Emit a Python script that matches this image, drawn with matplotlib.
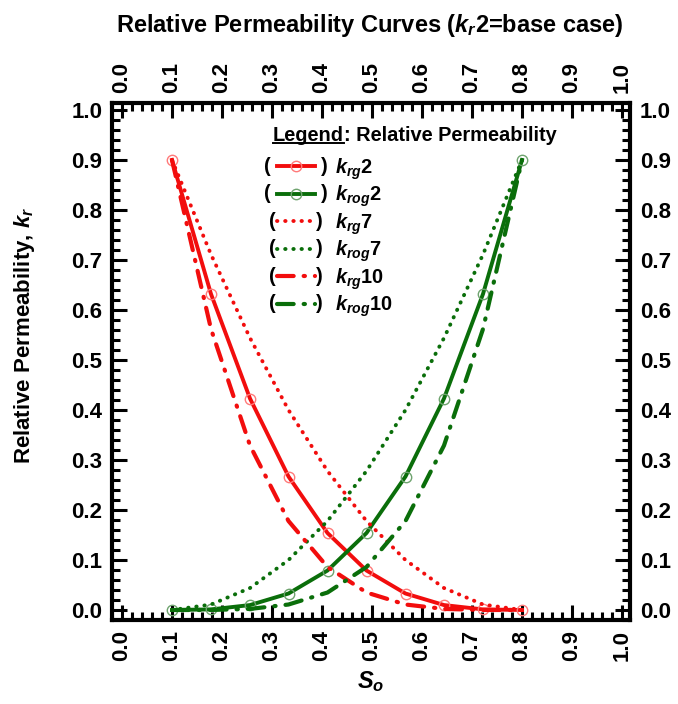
import matplotlib
matplotlib.use("Agg")
import matplotlib.pyplot as plt
from matplotlib.ticker import MultipleLocator
from matplotlib.lines import Line2D

plt.rcParams['font.family'] = ['Liberation Sans', 'DejaVu Sans']
plt.rcParams['mathtext.fontset'] = 'custom'
plt.rcParams['mathtext.it'] = 'Liberation Sans:italic:bold'
plt.rcParams['mathtext.rm'] = 'Liberation Sans:bold'
plt.rcParams['mathtext.bf'] = 'Liberation Sans:bold'

# saturation points (10 markers between 0.1 and 0.8)
so = [0.1, 0.178, 0.256, 0.333, 0.411, 0.489, 0.567, 0.644, 0.722, 0.8]

krg2 = [0.9, 0.632, 0.423, 0.267, 0.154, 0.079, 0.033, 0.0099, 0.0012, 0.0]
krog2 = [0.0, 0.0012, 0.0099, 0.033, 0.079, 0.154, 0.267, 0.423, 0.632, 0.9]
krg7 = [0.9, 0.711, 0.544, 0.4, 0.278, 0.178, 0.1, 0.044, 0.011, 0.0]
krog7 = [0.0, 0.011, 0.044, 0.1, 0.178, 0.278, 0.4, 0.544, 0.711, 0.9]
krg10 = [0.9, 0.562, 0.329, 0.178, 0.086, 0.035, 0.011, 0.0022, 0.0001, 0.0]
krog10 = [0.0, 0.0001, 0.0022, 0.011, 0.035, 0.086, 0.178, 0.329, 0.562, 0.9]

labels = [r'$k_{rg}$2', r'$k_{rog}$2', r'$k_{rg}$7', r'$k_{rog}$7',
          r'$k_{rg}$10', r'$k_{rog}$10']
ticks = [i / 10 for i in range(11)]
ticklabels = ['%.1f' % t for t in ticks]

red = '#f20d0d'
green = '#0a6e0a'
dot = (0, (0.1, 2.0))
dashdot = (0, (4.0, 2.4, 0.3, 2.4))

fig = plt.figure(figsize=(6.78, 7.04), dpi=100)
ax = fig.add_axes([0.1652, 0.1193, 0.764, 0.7344])

l1, = ax.plot(so, krg2, color=red, lw=2.8, marker='o', ms=7.5, mfc='none',
              mec='#ff7a7a', mew=1.0, label=labels[0])
l2, = ax.plot(so, krog2, color=green, lw=2.8, marker='o', ms=7.5, mfc='none',
              mec='#6fa36f', mew=1.0, label=labels[1])
l3, = ax.plot(so, krg7, color=red, lw=2.8, ls=dot, dash_capstyle='round',
              label=labels[2])
l4, = ax.plot(so, krog7, color=green, lw=2.8, ls=dot, dash_capstyle='round',
              label=labels[3])
l5, = ax.plot(so, krg10, color=red, lw=3.0, ls=dashdot, dash_capstyle='round',
              label=labels[4])
l6, = ax.plot(so, krog10, color=green, lw=3.0, ls=dashdot, dash_capstyle='round',
              label=labels[5])

ax.set_xticks(ticks)
ax.set_xticklabels(ticklabels, rotation=90)
ax.set_yticks(ticks)
ax.set_yticklabels(ticklabels)
ax.xaxis.set_minor_locator(MultipleLocator(0.02))
ax.yaxis.set_minor_locator(MultipleLocator(0.02))
ax.set_xlim(-0.02, 1.016)
ax.set_ylim(-0.02, 1.014)
ax.tick_params(which='both', direction='in', top=True, right=True,
               labeltop=True, labelright=True, width=2.2)
ax.tick_params(which='major', length=11, labelsize=16, pad=7)
ax.tick_params(which='minor', length=5.5)
for lab in ax.get_xticklabels() + ax.get_yticklabels():
    lab.set_fontweight('bold')
for sp in ax.spines.values():
    sp.set_linewidth(3)

ax.set_xlabel(r'$S_o$', fontsize=17, labelpad=6)
ax.set_ylabel(r'Relative Permeability, $k_r$', fontsize=16, fontweight='bold')
ax.yaxis.set_label_coords(-0.145, 0.55)
fig.text(0.545, 0.9545, r'Relative Permeability Curves ($k_r$2=base case)',
         ha='center', va='baseline', fontsize=17, fontweight='bold')

leg = ax.legend(handles=[l1, l2, l3, l4, l5, l6], loc='upper left',
                bbox_to_anchor=(0.318, 0.897), frameon=False,
                prop={'size': 14.4, 'weight': 'bold'},
                handlelength=1.9, handletextpad=1.0, labelspacing=0.1,
                borderaxespad=0, borderpad=0)

# legend heading with underlined "Legend"
t1 = ax.text(0.31, 0.938, 'Legend', transform=ax.transAxes, fontsize=14.4,
             fontweight='bold', va='center', ha='left')
fig.canvas.draw()
r = fig.canvas.get_renderer()
bb = t1.get_window_extent(r)
inv = fig.transFigure.inverted()
x0, y0 = inv.transform((bb.x0, bb.y0))
x1, _ = inv.transform((bb.x1, bb.y0))
fig.add_artist(Line2D([x0, x1], [y0 + 0.002, y0 + 0.002], color='black',
                      lw=1.4, transform=fig.transFigure))
fig.text(x1, inv.transform((0, (bb.y0 + bb.y1) / 2))[1],
         ': Relative Permeability', fontsize=14.4, fontweight='bold',
         va='center', ha='left')

# parentheses around the legend samples
for h in leg.legend_handles:
    hb = h.get_window_extent(r)
    cy = (hb.y0 + hb.y1) / 2
    xa, ya = inv.transform((hb.x0 - 1, cy))
    xb, _ = inv.transform((hb.x1 + 1, cy))
    fig.text(xa, ya, '(', fontsize=14.4, fontweight='bold', ha='right', va='center')
    fig.text(xb, ya, ')', fontsize=14.4, fontweight='bold', ha='left', va='center')

fig.savefig('out.png', dpi=100)
